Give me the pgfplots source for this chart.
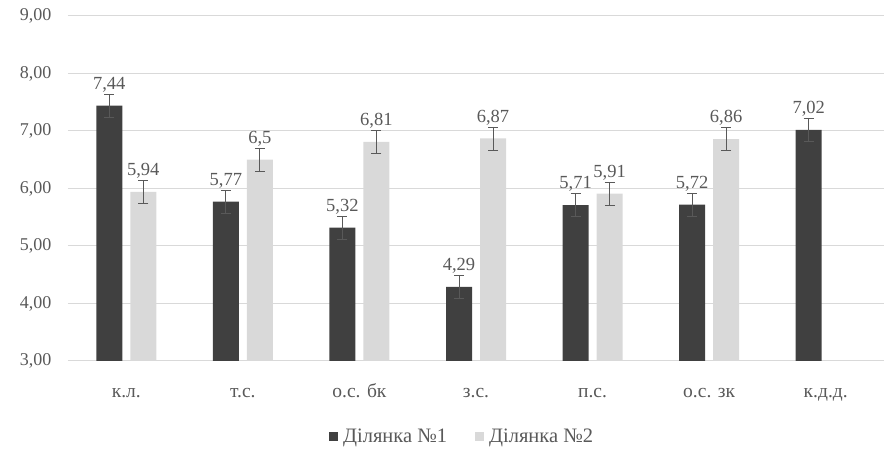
\documentclass[border=0pt]{standalone}
\usepackage{pgfplots}
\pgfplotsset{compat=1.18}
\usepackage{pgfplotstable}
\usepackage{fontspec}
\setmainfont{Liberation Serif}

\definecolor{darkbar}{HTML}{404040}
\definecolor{lightbar}{HTML}{D9D9D9}
\definecolor{txt}{HTML}{595959}
\definecolor{gridc}{HTML}{D9D9D9}

% x  y  err  label
\pgfplotstableread{
x y e lbl
0 7.44 0.2 7,44
1 5.77 0.2 5,77
2 5.32 0.2 5,32
3 4.29 0.2 4,29
4 5.71 0.2 5,71
5 5.72 0.2 5,72
6 7.02 0.2 7,02
}\dilone
\pgfplotstableread{
x y e lbl
0 5.94 0.2 5,94
1 6.50 0.2 6,5
2 6.81 0.2 6,81
3 6.87 0.2 6,87
4 5.91 0.2 5,91
5 6.86 0.2 6,86
}\diltwo

\begin{document}
\begin{tikzpicture}
\useasboundingbox (0,0) rectangle (884pt,450pt);
\begin{axis}[
  at={(68pt,89pt)}, anchor=south west,
  scale only axis, width=816pt, height=345pt,
  font=\fontsize{18}{21}\selectfont,
  ybar, bar width=26pt,
  xmin=-0.5, xmax=6.5, ymin=3, ymax=9,
  xtick={0,...,6},
  xticklabels={к.л., т.с., о.с. бк, з.с., п.с., о.с. зк, к.д.д.},
  ytick={3,4,...,9},
  /pgf/number format/fixed,
  /pgf/number format/fixed zerofill,
  /pgf/number format/precision=2,
  /pgf/number format/use comma,
  /pgf/number format/assume math mode=true,
  yticklabel style={text=txt, xshift=-13pt},
  xticklabel style={text=txt, anchor=base, yshift=-36pt, font=\fontsize{19.5}{22}\selectfont},
  major tick length=0pt,
  axis line style={draw=none},
  xmajorgrids=false, xminorgrids=false,
  ymajorgrids, grid style={draw=gridc, line width=1pt},
  point meta=explicit symbolic,
  nodes near coords,
  every node near coord/.append style={text=txt, yshift=10pt, font=\fontsize{18.5}{21}\selectfont},
  error bars/y dir=both, error bars/y explicit,
  error bars/error bar style={txt, line width=0.8pt},
  error bars/error mark options={rotate=90, mark size=5pt, txt, line width=0.8pt},
  legend columns=2,
  legend style={at={(0.483,-0.22)}, anchor=center, draw=none, text=txt,
    font=\fontsize{20.5}{23}\selectfont,
    /tikz/every odd column/.append style={column sep=3pt},
    /tikz/every even column/.append style={column sep=26pt}},
  legend image code/.code={\fill[#1] (0pt,-4.5pt) rectangle (9pt,4.5pt);},
]
\addplot[fill=darkbar, draw=none, bar shift=-17pt]
  table[x=x, y=y, y error=e, meta=lbl] {\dilone};
\addlegendentry{Ділянка №1}
\addplot[fill=lightbar, draw=none, bar shift=17pt]
  table[x=x, y=y, y error=e, meta=lbl] {\diltwo};
\addlegendentry{Ділянка №2}
\end{axis}
\end{tikzpicture}
\end{document}
